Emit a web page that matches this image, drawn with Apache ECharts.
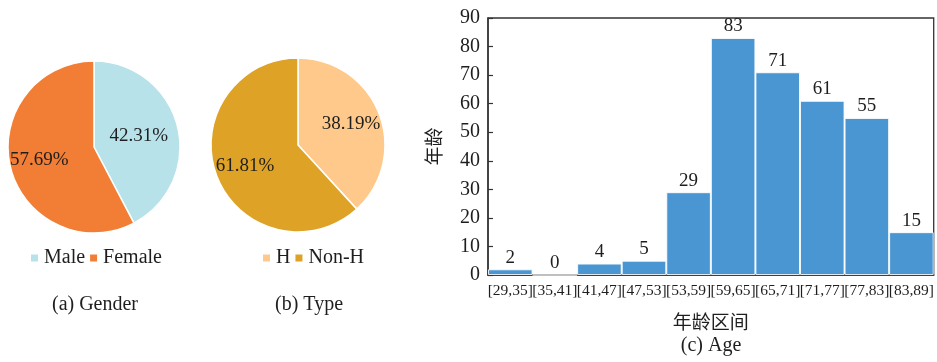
<!DOCTYPE html>
<html>
<head>
<meta charset="utf-8">
<script src="https://cdn.jsdelivr.net/npm/echarts@6/dist/echarts.min.js"></script>
<style>
  html, body { margin: 0; padding: 0; background: #fff; }
  #chart { width: 937px; height: 362px; }
</style>
</head>
<body>
<div id="chart"></div>
<script>
// Shares (in %) for the two pie panels
const genderNames = ['Male', 'Female'];
const genderShares = [42.31, 57.69];
const typeNames = ['H', 'Non-H'];
const typeShares = [38.19, 61.81];

// Age histogram: bins and counts
const ageBins = ['[29,35]', '[35,41]', '[41,47]', '[47,53]', '[53,59]', '[59,65]', '[65,71]', '[71,77]', '[77,83]', '[83,89]'];
const ageCounts = [2, 0, 4, 5, 29, 83, 71, 61, 55, 15];

// Panel captions
const captions = ['(a) Gender', '(b) Type', '(c) Age'];

const SERIF = '"Liberation Serif", "Times New Roman", serif';
const CJK = '"Noto Sans CJK SC", sans-serif';
const INK = '#1e1e1e';

const genderColors = ['#b8e2ea', '#f27d34'];
const typeColors = ['#fec98a', '#dea227'];

const pctLabel = {
  position: 'inside', color: INK, fontFamily: SERIF, fontSize: 19,
  formatter: p => p.value.toFixed(2) + '%'
};

// outer[i] = true puts slice i's label on the outer ring, false keeps it at half radius
function pieSeries(names, values, colors, center, r, outer) {
  return [
    {
      type: 'pie', center: center, radius: [0, r], startAngle: 90, clockwise: true,
      silent: true, labelLine: { show: false },
      label: Object.assign({ show: false }, pctLabel),
      itemStyle: { borderColor: '#fff', borderWidth: 1.5 },
      data: names.map((n, i) => ({
        name: n, value: values[i], itemStyle: { color: colors[i] },
        label: { show: !outer[i] }
      }))
    },
    {
      // transparent ring that places the remaining labels a bit further out
      type: 'pie', center: center, radius: [r * 0.24, r], startAngle: 90, clockwise: true,
      silent: true, legendHoverLink: false, labelLine: { show: false },
      label: Object.assign({ show: false }, pctLabel),
      data: names.map((n, i) => ({
        name: n, value: values[i], itemStyle: { color: 'rgba(0,0,0,0)' },
        label: { show: !!outer[i] }
      }))
    }
  ];
}

function legendFor(names, colors, left) {
  return {
    data: names.map((n, i) => ({ name: n, itemStyle: { color: colors[i] } })),
    left: left, top: 248, orient: 'horizontal', padding: 0,
    icon: 'rect', itemWidth: 9, itemHeight: 9, itemGap: 3,
    selectedMode: false,
    textStyle: { fontFamily: SERIF, fontSize: 20, color: INK }
  };
}

const chart = echarts.init(document.getElementById('chart'), null, { renderer: 'canvas' });

chart.setOption({
  animation: false,
  backgroundColor: '#fff',
  legend: [
    legendFor(genderNames, genderColors, 29),
    legendFor(typeNames, typeColors, 261)
  ],
  grid: {
    left: 488, top: 18, width: 446, height: 257,
    show: true, borderColor: '#333', borderWidth: 1.3, backgroundColor: 'transparent'
  },
  xAxis: {
    type: 'category', data: ageBins,
    axisLine: { lineStyle: { color: '#333', width: 1.5 } },
    axisTick: { show: false },
    axisLabel: { interval: 0, margin: 8, fontFamily: SERIF, fontSize: 15.5, color: INK },
    name: '年龄区间', nameLocation: 'middle', nameGap: 37,
    nameTextStyle: { fontFamily: CJK, fontSize: 19, color: INK }
  },
  yAxis: {
    type: 'value', min: 0, max: 90, interval: 10,
    axisLine: { show: true, lineStyle: { color: '#333', width: 1.5 } },
    axisTick: { show: true, inside: true, length: 5, lineStyle: { color: '#333', width: 1.2 } },
    axisLabel: { margin: 8, fontFamily: SERIF, fontSize: 20, color: INK },
    splitLine: { show: false },
    name: '年龄', nameLocation: 'middle', nameGap: 45,
    nameTextStyle: { fontFamily: CJK, fontSize: 19, color: INK }
  },
  series: [
    ...pieSeries(genderNames, genderShares, genderColors, [94, 147], 86, [false, true]),
    ...pieSeries(typeNames, typeShares, typeColors, [298, 145], 87, [true, true]),
    {
      type: 'bar', data: ageCounts, barCategoryGap: '0%',
      itemStyle: { color: '#4a96d2', borderColor: 'rgba(255,255,255,0.85)', borderWidth: 1 },
      label: { show: true, position: 'top', distance: 2, fontFamily: SERIF, fontSize: 19, color: INK },
      silent: true
    }
  ],
  graphic: [
    { type: 'text', style: { x: 95, y: 305, text: captions[0], font: '20px ' + SERIF, fill: INK, align: 'center', verticalAlign: 'middle' } },
    { type: 'text', style: { x: 309, y: 305, text: captions[1], font: '20px ' + SERIF, fill: INK, align: 'center', verticalAlign: 'middle' } },
    { type: 'text', style: { x: 711, y: 346, text: captions[2], font: '20px ' + SERIF, fill: INK, align: 'center', verticalAlign: 'middle' } }
  ]
});
</script>
</body>
</html>
